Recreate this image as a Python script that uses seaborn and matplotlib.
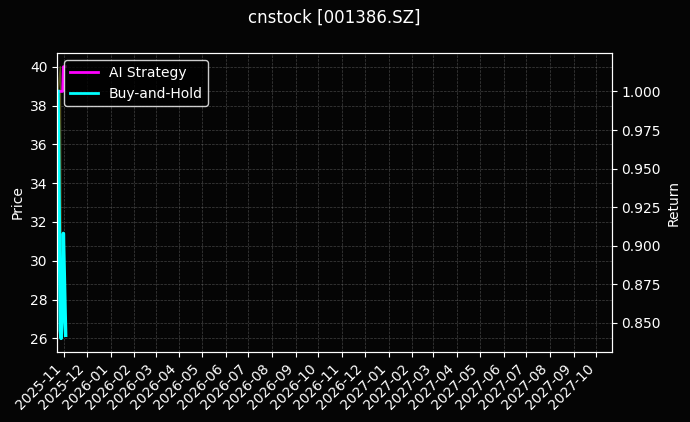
import pandas as pd
import matplotlib
matplotlib.use('Agg')
import matplotlib.pyplot as plt
import matplotlib.dates as mdates
import seaborn as sns

# chart data
dates = pd.to_datetime(['2025-10-24', '2025-10-27', '2025-10-28', '2025-10-29',
                        '2025-10-30', '2025-10-31', '2025-11-03'])
price = [38.7, 40.0, 31.0, 26.0, 27.5, 28.0, 26.2]
ai_strategy = [1.0, 1.0, 1.0, 1.0, 1.0, 1.016, 1.016]
buy_and_hold = [1.0, 0.845, 0.84, 0.85, 0.86, 0.908, 0.842]

x_start = pd.Timestamp('2025-10-23')
x_end = pd.Timestamp('2027-10-21')

df = pd.DataFrame({'Date': dates, 'Price': price,
                   'AI Strategy': ai_strategy, 'Buy-and-Hold': buy_and_hold})

plt.style.use('dark_background')
fig, ax = plt.subplots(figsize=(6.9, 4.22), dpi=100)
fig.patch.set_facecolor('#050505')
ax.set_facecolor('#050505')
fig.subplots_adjust(left=0.083, right=0.8865, bottom=0.166, top=0.874)

# price on the left axis (dim, mostly hidden behind the returns)
sns.lineplot(data=df, x='Date', y='Price', ax=ax, color='#55551f', linewidth=1, legend=False)
ax.set_ylabel('Price')
ax.set_xlabel('')

# returns on the right axis
ax2 = ax.twinx()
sns.lineplot(data=df, x='Date', y='AI Strategy', ax=ax2, color='magenta', linewidth=2, label='AI Strategy')
sns.lineplot(data=df, x='Date', y='Buy-and-Hold', ax=ax2, color='cyan', linewidth=2.5, label='Buy-and-Hold')
ax2.set_ylabel('Return')

ax.set_xlim(x_start, x_end)
ax.xaxis.set_major_locator(mdates.MonthLocator())
ax.xaxis.set_major_formatter(mdates.DateFormatter('%Y-%m'))
plt.setp(ax.get_xticklabels(), rotation=45, ha='right')

ax.grid(True, color='gray', linestyle='--', linewidth=0.5, alpha=0.5)
ax2.grid(True, color='gray', linestyle='--', linewidth=0.5, alpha=0.5)

leg = ax2.legend(loc='upper left', facecolor='black', edgecolor='white')
for line in leg.get_lines():
    line.set_linewidth(2)

ax.set_title('cnstock [001386.SZ]', fontsize=12, pad=22)

fig.savefig('out.png', dpi=100, facecolor=fig.get_facecolor())
